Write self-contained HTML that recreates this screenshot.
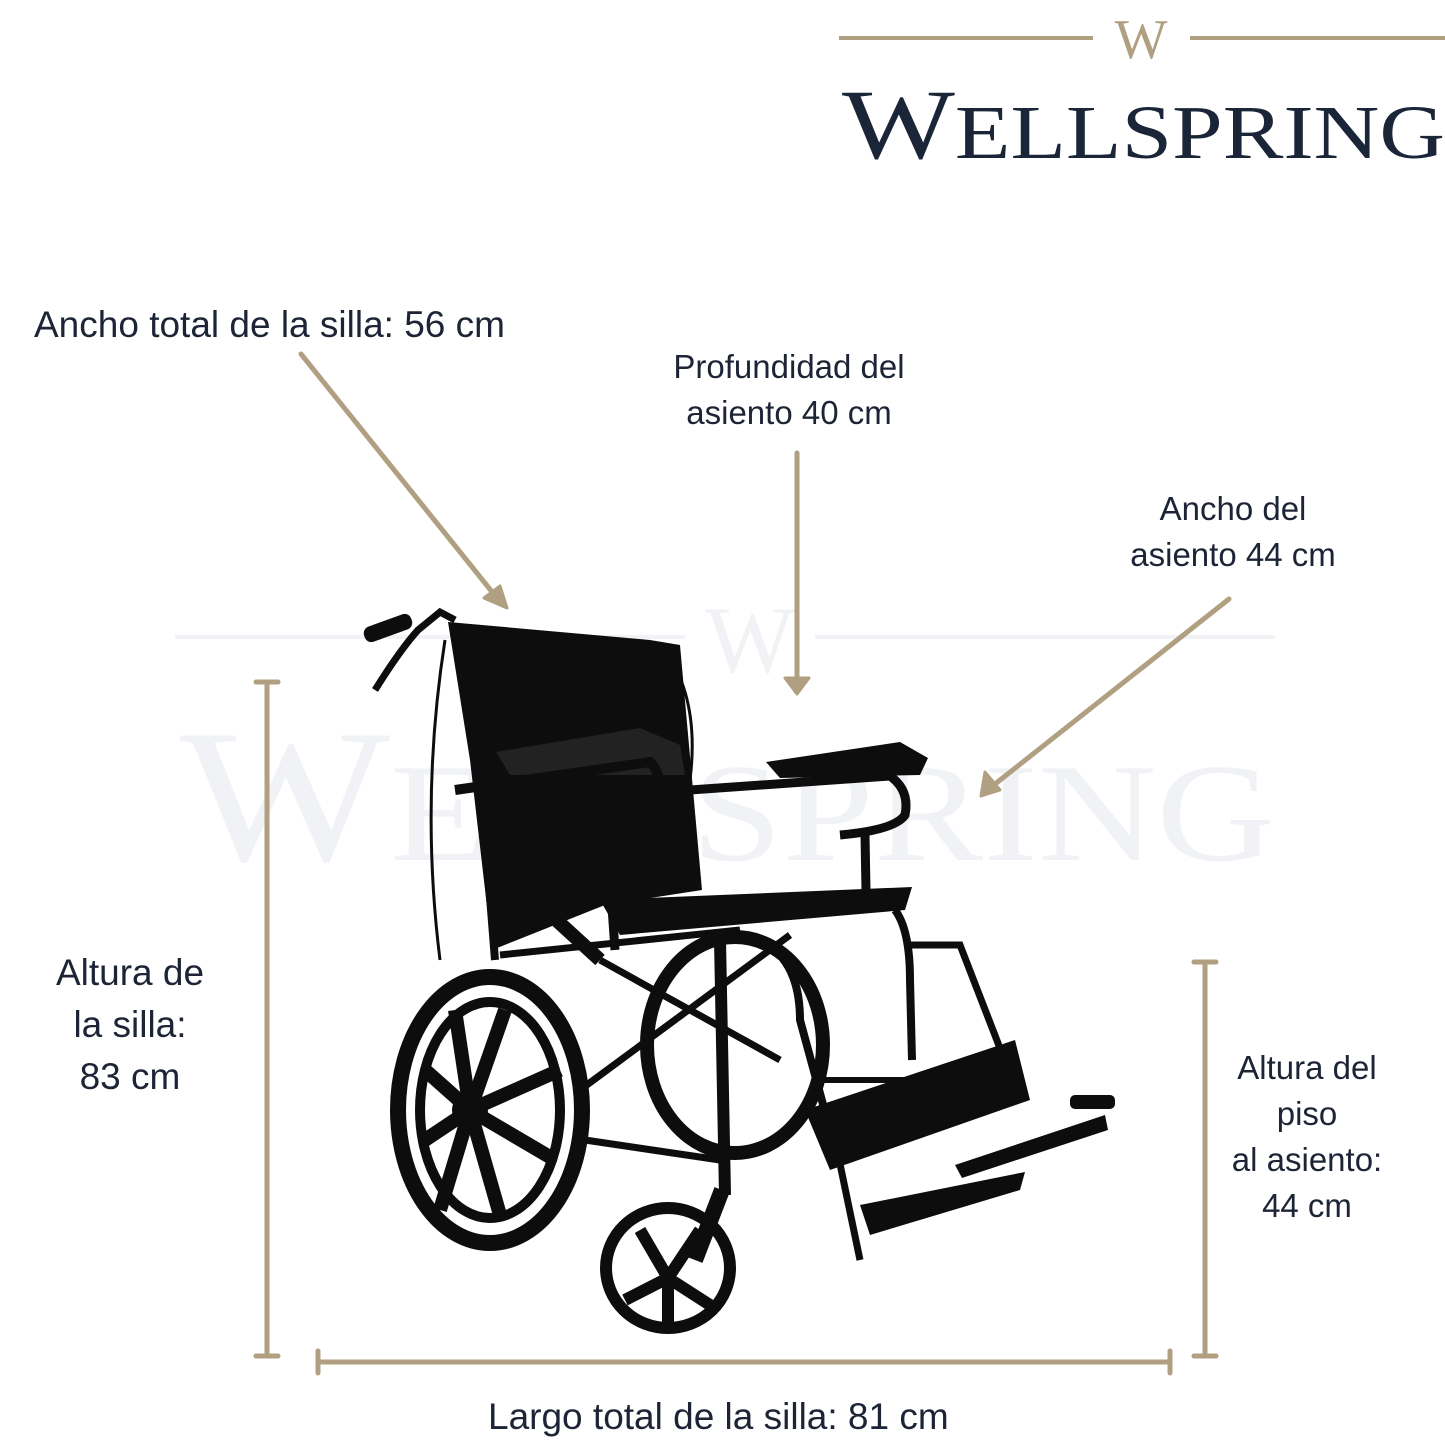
<!DOCTYPE html>
<html><head><meta charset="utf-8"><style>
html,body{margin:0;padding:0;background:#fff}
body{width:1445px;height:1445px;position:relative;overflow:hidden;font-family:"Liberation Sans",sans-serif;color:#1c2436}
.t{position:absolute;font-size:37px;line-height:46px;text-align:center;white-space:nowrap}
.s{font-size:33px}
svg{position:absolute;left:0;top:0}
</style></head><body>
<svg width="1445" height="1445" viewBox="0 0 1445 1445">
<g fill="#f1f2f5" stroke="none">
<rect x="175" y="635" width="510" height="4"/><rect x="815" y="635" width="460" height="4"/>
<text x="750" y="672" font-family="Liberation Serif" font-size="95" text-anchor="middle">W</text>
<text x="180" y="860" font-family="Liberation Serif" font-size="190" textLength="1095" lengthAdjust="spacingAndGlyphs">W<tspan font-size="140">ELLSPRING</tspan></text>
</g>
<g fill="#b09f80"><rect x="839" y="36" width="254" height="4"/><rect x="1190" y="36" width="255" height="4"/></g>
<text x="1141" y="58" font-family="Liberation Serif" font-size="56" fill="#b09f80" text-anchor="middle">W</text>
<text x="842" y="158" font-family="Liberation Serif" font-size="100" fill="#1a2538" textLength="603" lengthAdjust="spacingAndGlyphs">W<tspan font-size="76">ELLSPRING</tspan></text>
<g stroke="#b09f80" stroke-width="5" fill="#b09f80" stroke-linecap="round">
<line x1="301" y1="354" x2="497" y2="598"/>
<polygon points="507,608 484,598 500,586" stroke-width="3" stroke-linejoin="round"/>
<line x1="797" y1="453" x2="797" y2="680"/>
<polygon points="785,678 809,678 797,694" stroke-width="3" stroke-linejoin="round"/>
<line x1="1229" y1="599" x2="990" y2="788"/>
<polygon points="981,796 985,772 1000,790" stroke-width="3" stroke-linejoin="round"/>
<line x1="267" y1="682" x2="267" y2="1356"/>
<line x1="256" y1="682" x2="278" y2="682"/><line x1="256" y1="1356" x2="278" y2="1356"/>
<line x1="1205" y1="962" x2="1205" y2="1356"/>
<line x1="1194" y1="962" x2="1216" y2="962"/><line x1="1194" y1="1356" x2="1216" y2="1356"/>
<line x1="318" y1="1362" x2="1170" y2="1362"/>
<line x1="318" y1="1351" x2="318" y2="1373"/><line x1="1170" y1="1351" x2="1170" y2="1373"/>
</g>
<g fill="#0d0d0d" stroke="#0d0d0d">
<polygon points="448,622 650,640 680,645 702,890 605,905 492,950 470,760" stroke="none"/>
<ellipse cx="735" cy="1045" rx="88" ry="108" fill="none" stroke-width="14"/>
<path d="M375,690 Q400,650 418,630 L440,612 L455,620" fill="none" stroke-width="7"/>
<rect x="363" y="620" width="50" height="16" rx="7" transform="rotate(-20 388 628)" stroke="none"/>
<path d="M445,640 Q420,800 440,960" fill="none" stroke-width="3"/>
<path d="M665,650 Q700,700 690,780" fill="none" stroke-width="3"/>
<polygon points="496,752 640,728 680,745 685,775 510,775" fill="#222" stroke="none"/>
<path d="M455,790 L650,762 Q668,780 650,820 Q630,840 580,848" fill="none" stroke-width="10"/>
<polygon points="766,762 900,742 928,758 920,775 780,778" stroke="none"/>
<path d="M690,790 L890,776 Q910,790 905,815 Q895,830 840,835" fill="none" stroke-width="9"/>
<line x1="865" y1="835" x2="866" y2="890" stroke-width="9"/>
<polygon points="600,900 912,887 905,910 620,935" stroke="none"/>
<line x1="608" y1="850" x2="615" y2="950" stroke-width="9"/>
<line x1="480" y1="770" x2="495" y2="960" stroke-width="8"/>
<line x1="500" y1="955" x2="740" y2="930" stroke-width="7"/>
<line x1="540" y1="905" x2="600" y2="960" stroke-width="14"/>
<line x1="580" y1="1090" x2="790" y2="935" stroke-width="7"/>
<line x1="600" y1="960" x2="780" y2="1060" stroke-width="7"/>
<line x1="585" y1="1140" x2="720" y2="1160" stroke-width="7"/>
<line x1="720" y1="940" x2="725" y2="1195" stroke-width="12"/>
<path d="M760,940 Q800,960 800,1020 L830,1130" fill="none" stroke-width="8"/>
<line x1="820" y1="1080" x2="905" y2="1080" stroke-width="6"/>
<path d="M895,910 Q910,930 910,980 L912,1060" fill="none" stroke-width="8"/>
<path d="M905,945 L960,945 L1020,1100" fill="none" stroke-width="7"/>
<polygon points="805,1110 1015,1040 1030,1100 830,1170" stroke="none"/>
<polygon points="955,1165 1105,1115 1108,1130 962,1178" stroke="none"/>
<polygon points="860,1205 1025,1172 1020,1190 870,1235" stroke="none"/>
<rect x="1070" y="1095" width="45" height="14" rx="5" stroke="none"/>
<line x1="835" y1="1140" x2="860" y2="1260" stroke-width="7"/>
<ellipse cx="490" cy="1110" rx="92" ry="133" fill="none" stroke-width="16"/>
<ellipse cx="490" cy="1110" rx="70" ry="108" fill="none" stroke-width="10"/>
<g stroke-width="14">
<line x1="470" y1="1110" x2="455" y2="1010"/><line x1="470" y1="1110" x2="505" y2="1010"/>
<line x1="470" y1="1110" x2="560" y2="1070"/><line x1="470" y1="1110" x2="555" y2="1160"/>
<line x1="470" y1="1110" x2="500" y2="1215"/><line x1="470" y1="1110" x2="440" y2="1210"/>
<line x1="470" y1="1110" x2="425" y2="1140"/><line x1="470" y1="1110" x2="425" y2="1070"/>
</g>
<circle cx="470" cy="1110" r="18" stroke="none"/>
<line x1="722" y1="1190" x2="695" y2="1260" stroke-width="16"/>
<ellipse cx="668" cy="1268" rx="62" ry="60" fill="none" stroke-width="12"/>
<g stroke-width="12"><line x1="668" y1="1278" x2="640" y2="1230"/><line x1="668" y1="1278" x2="700" y2="1230"/><line x1="668" y1="1278" x2="625" y2="1300"/><line x1="668" y1="1278" x2="710" y2="1305"/><line x1="668" y1="1278" x2="668" y2="1325"/></g>
</g>
</svg>
<div class="t" style="left:34px;top:302px">Ancho total de la silla: 56 cm</div>
<div class="t s" style="left:639px;top:344px;width:300px">Profundidad del<br>asiento 40 cm</div>
<div class="t s" style="left:1083px;top:486px;width:300px">Ancho del<br>asiento 44 cm</div>
<div class="t" style="left:30px;top:947px;width:200px;line-height:52px">Altura de<br>la silla:<br>83 cm</div>
<div class="t s" style="left:1207px;top:1045px;width:200px">Altura del<br>piso<br>al asiento:<br>44 cm</div>
<div class="t" style="left:488px;top:1394px">Largo total de la silla: 81 cm</div>
</body></html>
